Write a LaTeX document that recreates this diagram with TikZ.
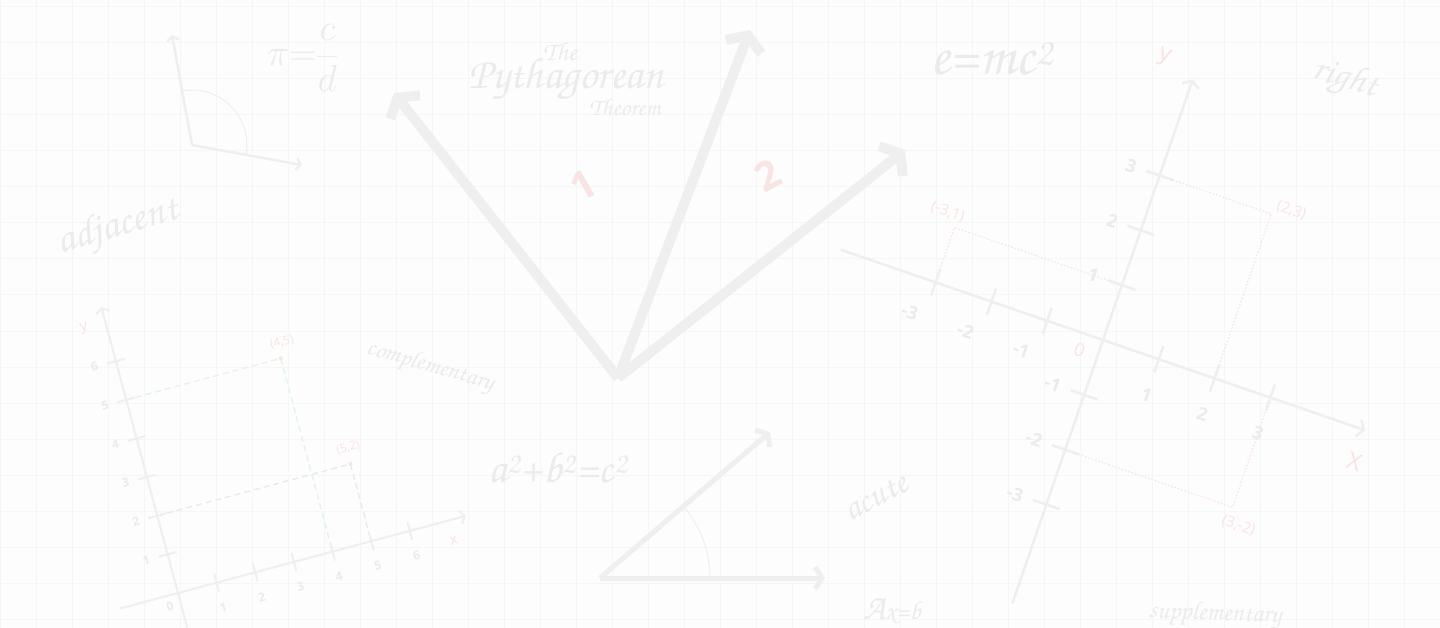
\documentclass[tikz,border=0pt]{standalone}
\usepackage{fontspec}
\usetikzlibrary{arrows.meta}
\newfontfamily\numfont{Open Sans}
\newcommand\handfont{\fontencoding{OT1}\fontfamily{pzc}\fontseries{mb}\fontshape{it}\selectfont}
\definecolor{paper}{HTML}{FDFDFD}
\definecolor{gridLine}{HTML}{F5F7F7}
\definecolor{chalk}{HTML}{EFEFEF}
\definecolor{inkGrey}{HTML}{EBEBEB}
\definecolor{inkPink}{HTML}{FAE3E3}
\definecolor{dotPink}{HTML}{F9E3E3}
\definecolor{dashGreen}{HTML}{E2F5E2}
\definecolor{dashBlue}{HTML}{E7E7F6}

\begin{document}
\begin{tikzpicture}[x=1pt, y=-1pt,
    hand/.style={font={\handfont\fontsize{#1}{#1}\selectfont}, text=inkGrey, inner sep=0pt},
    num/.style={font={\numfont\bfseries\fontsize{#1}{#1}\selectfont}, text=inkGrey, inner sep=0pt},
    pinklbl/.style={font={\numfont\fontsize{#1}{#1}\selectfont}, text=inkPink, inner sep=0pt},
    bignum/.style={font={\numfont\bfseries\fontsize{40}{40}\selectfont}, text=inkPink, inner sep=0pt},
    bigvec/.style={draw=chalk, line width=10pt, -{Straight Barb[length=12pt, width=38pt]}},
    midvec/.style={draw=chalk, line width=5pt, -{Straight Barb[length=7pt, width=22pt]}},
    thinvec/.style={draw=chalk, line width=2.5pt, -{Straight Barb[length=4pt, width=12pt]}},
    axisvec/.style={draw=chalk, line width=#1, -{Straight Barb[length=2.2*#1, width=7*#1]}},
    tickmark/.style={draw=chalk, line width=#1},
    anglearc/.style={draw=chalk, line width=1pt},
    dotline/.style={draw=dotPink, line width=1.2pt, dash pattern=on 1.5pt off 2pt},
  ]
  % paper and grid
  \fill[paper] (0,0) rectangle (1440,628);
  \useasboundingbox (0,0) rectangle (1440,628);
  \foreach \gx in {0.5,36.5,...,1440}
    \draw[gridLine, line width=1pt] (\gx,0) -- (\gx,628);
  \foreach \gy in {7,43,...,628}
    \draw[gridLine, line width=1pt] (0,\gy) -- (1440,\gy);

  % right angle, top left
  \coordinate (rtO) at (192,145);
  \coordinate (rtUp) at (172,35);
  \coordinate (rtSide) at (302,165);
  \draw[thinvec] (rtO) -- (rtUp);
  \draw[thinvec] (rtO) -- (rtSide);
  \draw[anglearc] (rtO) ++(-100:55) arc[start angle=-100, end angle=10, radius=55];

  % handwriting
  \node[hand=24, scale=1.5] (piEq) at (303,58) {$\displaystyle\pi{=}\frac{c}{d}$};
  \node[hand=26] (pyThe) at (560,51) {The};
  \node[hand=44] (pyName) at (566,80) {Pythagorean};
  \node[hand=24] (pyThm) at (625,107) {Theorem};
  \node[hand=58] (emc) at (992,58) {e=mc\textsuperscript{2}};
  \node[hand=42, rotate=16] (wAdj) at (118,228) {adjacent};
  \node[hand=25, rotate=-16] (wComp) at (430,367) {complementary};
  \node[hand=38, rotate=-17] (wRight) at (1345,80) {right};
  \node[hand=36, rotate=28] (wAcute) at (876,497) {acute};
  \node[hand=36] (wAxb) at (892,610) {A{\fontsize{26}{26}\selectfont x=b}};
  \node[hand=26, rotate=-2] (wSupp) at (1215,615) {supplementary};
  \node[hand=44] (abc) at (558,468) {a\textsuperscript{2}+b\textsuperscript{2}=c\textsuperscript{2}};

  % three big vectors
  \coordinate (vO) at (618,378);
  \coordinate (vOne) at (394,93);
  \coordinate (vTwo) at (750,30);
  \coordinate (vThree) at (905,150);
  \draw[bigvec] (vO) -- (vOne);
  \draw[bigvec] (vO) -- (vTwo);
  \draw[bigvec] (vO) -- (vThree);
  \node[bignum, rotate=30] (nOne) at (583,185) {1};
  \node[bignum, rotate=28] (nTwo) at (768,175) {2};

  % acute angle
  \coordinate (acO) at (600,578);
  \coordinate (acUp) at (770,432);
  \coordinate (acSide) at (825,578);
  \draw[midvec] (acO) -- (acUp);
  \draw[midvec] (acO) -- (acSide);
  \draw[anglearc] (acO) ++(-40.7:110) arc[start angle=-40.7, end angle=0, radius=110];

  % small coordinate system, bottom left
  \begin{scope}[shift={(178,593)}, rotate=15, x=40pt, y=40pt, transform shape]
    \draw[dashGreen, line width=1.3pt, dash pattern=on 6pt off 4pt] (0,5) -- (4,5) -- (4,0);
    \draw[dashBlue, line width=1.3pt, dash pattern=on 6pt off 4pt] (0,2) -- (5,2) -- (5,0);
    \draw[axisvec=2pt] (-1.5,0) -- (7.45,0);
    \draw[axisvec=2pt] (0,-0.95) -- (0,7.4);
    \foreach \k in {1,...,6} {
      \draw[tickmark=2pt] (\k,-0.23) -- (\k,0.23);
      \node[num=12] at (\k,-0.64) {\k};
      \draw[tickmark=2pt] (-0.23,\k) -- (0.23,\k);
      \node[num=12] at (-0.55,\k) {\k};
    }
    \node[num=12] at (-0.28,-0.27) {0};
    \node[pinklbl=15] at (7.0,-0.52) {x};
    \node[pinklbl=15] at (-0.55,7.0) {y};
    \fill[inkPink] (4,5) circle (2pt);
    \fill[inkPink] (5,2) circle (2pt);
    \node[pinklbl=12] at (4.13,5.38) {(4,5)};
    \node[pinklbl=12] at (5.05,2.4) {(5,2)};
  \end{scope}

  % large coordinate system, right
  \begin{scope}[shift={(1103,340)}, rotate=-19, x=59pt, y=58pt, transform shape]
    \draw[dotline] (0,3) -- (2,3) -- (2,0);
    \draw[dotline] (0,1) -- (-3,1) -- (-3,0);
    \draw[dotline] (0,-2) -- (3,-2) -- (3,0);
    \draw[axisvec=2.5pt] (-4.7,0) -- (4.7,0);
    \draw[axisvec=2.5pt] (0,-4.8) -- (0,4.75);
    \foreach \k in {-3,-2,-1,1,2,3} {
      \draw[tickmark=2.5pt] (\k,-0.24) -- (\k,0.24);
      \draw[tickmark=2.5pt] (-0.24,\k) -- (0.24,\k);
      \node[num=18, anchor=east] at (-0.42,\k) {\k};
    }
    \foreach \k in {-3,-2,-1} \node[num=18] at (\k-0.25,-0.63) {\k};
    \foreach \k in {1,2,3} \node[num=18] at (\k,-0.65) {\k};
    \node[pinklbl=18] at (-0.32,-0.3) {0};
    \node[pinklbl=24] at (4.7,-0.57) {X};
    \node[pinklbl=24] at (-0.58,4.95) {y};
    \node[pinklbl=15, anchor=south west] at (2.05,3.05) {(2,3)};
    \node[pinklbl=15, anchor=south east] at (-2.9,1.1) {(-3,1)};
    \node[pinklbl=15, anchor=north west] at (2.9,-2.15) {(3,-2)};
  \end{scope}
\end{tikzpicture}
\end{document}
